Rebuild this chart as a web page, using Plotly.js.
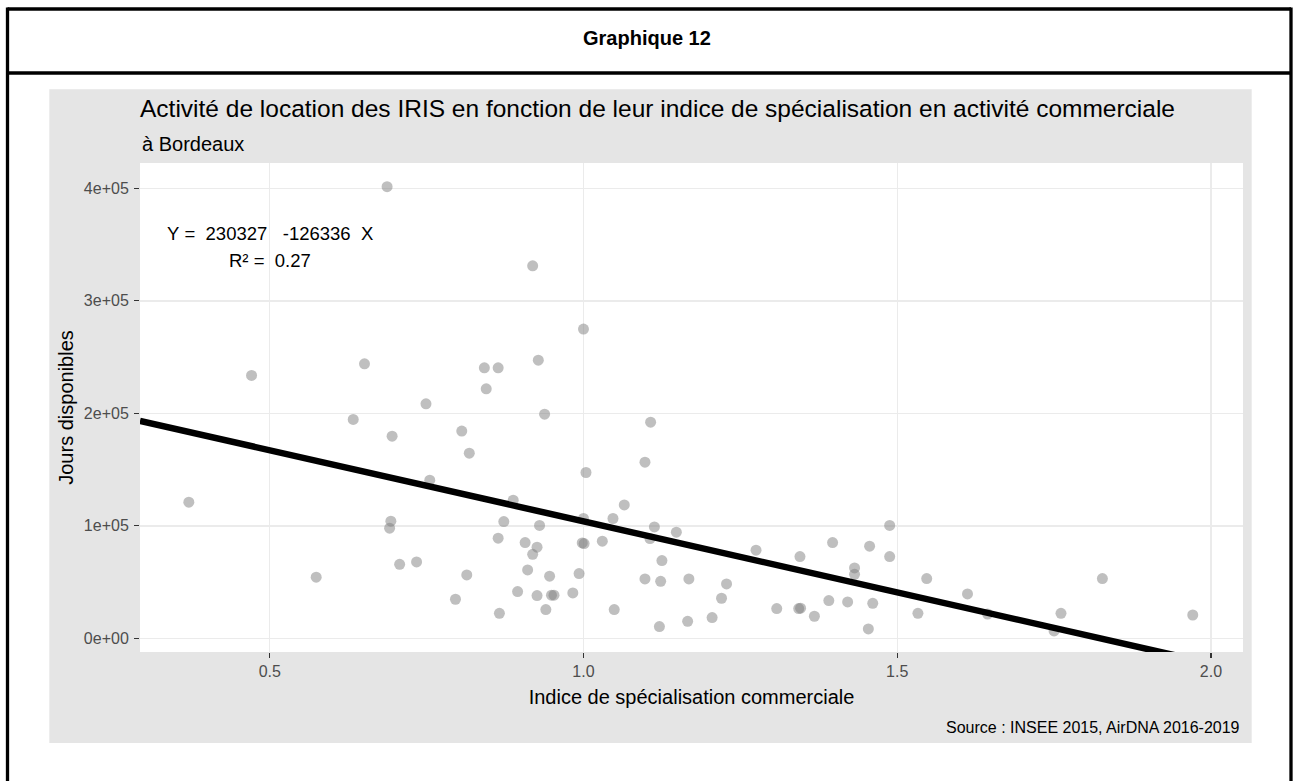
<!DOCTYPE html>
<html>
<head>
<meta charset="utf-8">
<script src="https://cdn.plot.ly/plotly-3.0.1.min.js"></script>
<style>
html,body{margin:0;padding:0;background:#fff;}
#chart{width:1293px;height:781px;}
</style>
</head>
<body>
<div id="chart"></div>
<script>
// ---- Data ----
const indiceSpecialisation = [
  0.687, 0.471, 0.651, 0.842, 0.864, 0.845, 0.749, 0.633, 0.695, 0.806,
  0.818, 0.755, 0.371, 0.693, 0.691, 0.873, 0.864, 0.707, 0.734, 0.574,
  0.814, 0.796, 0.866, 0.919, 1.000, 0.928, 0.938, 1.107, 1.098, 1.004,
  0.888, 1.065, 1.047, 1.000, 0.930, 1.113, 1.106, 1.148, 0.907, 0.926,
  0.919, 0.998, 1.001, 1.030, 1.125, 1.275, 1.345, 1.397, 1.456, 1.432,
  1.432, 0.911, 0.946, 0.993, 1.098, 1.123, 1.168, 1.228, 0.895, 0.926,
  0.949, 0.953, 0.983, 1.220, 0.940, 1.049, 1.121, 1.166, 1.205, 1.308,
  1.343, 1.346, 1.368, 1.391, 1.421, 1.461, 1.454, 1.488, 1.488, 1.547,
  1.612, 1.827, 1.533, 1.644, 1.761, 1.750, 1.971
];
const joursDisponibles = [
  401500, 233700, 244000, 240500, 240500, 221800, 208500, 194600, 179700, 184200,
  164600, 140600, 121000, 104100, 97900, 103800, 89000, 65800, 67900, 54300,
  56300, 34700, 22200, 331200, 274900, 247300, 199300, 192200, 156600, 147400,
  122800, 118600, 106500, 106500, 100300, 99000, 88700, 94300, 85100, 81000,
  74700, 84800, 84200, 86300, 69100, 78300, 72700, 85100, 81900, 62600,
  56900, 60800, 55200, 57500, 52800, 50700, 52800, 48300, 41500, 38000,
  38300, 38300, 40300, 35600, 25500, 25500, 10400, 15100, 18400, 26400,
  26400, 26800, 19600, 33500, 32300, 31100, 8300, 100300, 72700, 53100,
  39400, 53100, 22200, 21600, 22200, 6500, 20700
];
// regression: Y = intercept + slope * X
const regression = [230327, -126336];
const r2 = [0.27];
const xTickVals = [0.5, 1.0, 1.5, 2.0];
const xTickLabels = ["0.5", "1.0", "1.5", "2.0"];
const yTickVals = [0, 100000, 200000, 300000, 400000];
const yTickLabels = ["0e+00", "1e+05", "2e+05", "3e+05", "4e+05"];

// ---- Layout geometry (pixels) ----
const W = 1293, H = 781;
const PL = 140, PR = 1243, PT = 163, PB = 652;
const px = p => (p - PL) / (PR - PL);
const py = p => (PB - p) / (PB - PT);
const xRange = [0.2932, 2.0511];
const yRange = [-12190, 422600];
const FONT = "'Liberation Sans', Arial, sans-serif";
const nb = s => s.replace(/ /g, "\u00A0");

const lineX = xRange.slice();
const lineY = lineX.map(v => regression[0] + regression[1] * v);

const traces = [
  {
    type: "scatter", mode: "markers",
    x: indiceSpecialisation, y: joursDisponibles,
    marker: {size: 11, color: "rgba(127,127,127,0.5)", line: {width: 0}},
    hoverinfo: "x+y", showlegend: false
  },
  {
    type: "scatter", mode: "lines",
    x: lineX, y: lineY,
    line: {color: "#000000", width: 6.5},
    hoverinfo: "skip", showlegend: false
  }
];

const frameLine = {color: "#000000", width: 3.3};
const layout = {
  width: W, height: H,
  margin: {l: PL, r: W - PR, t: PT, b: H - PB, pad: 0},
  paper_bgcolor: "#ffffff",
  plot_bgcolor: "#ffffff",
  showlegend: false,
  font: {family: FONT, color: "#000000"},
  title: {
    text: "Activité de location des IRIS en fonction de leur indice de spécialisation en activité commerciale",
    font: {family: FONT, size: 24.5, color: "#000000"},
    xref: "paper", x: 0, xanchor: "left",
    yref: "container", y: 1 - 108 / H, yanchor: "middle"
  },
  xaxis: {
    range: xRange, tickmode: "array", tickvals: xTickVals, ticktext: xTickLabels,
    showgrid: true, gridcolor: "#EBEBEB", gridwidth: 1.4, zeroline: false, showline: false,
    ticks: "outside", ticklen: 5, tickwidth: 1.2, tickcolor: "#333333",
    tickfont: {family: FONT, size: 16, color: "#4D4D4D"},
    title: {text: "Indice de spécialisation commerciale", font: {family: FONT, size: 20, color: "#000000"}, standoff: 10}
  },
  yaxis: {
    range: yRange, tickmode: "array", tickvals: yTickVals, ticktext: yTickLabels,
    showgrid: true, gridcolor: "#EBEBEB", gridwidth: 1.4, zeroline: false, showline: false,
    ticks: "outside", ticklen: 5, tickwidth: 1.2, tickcolor: "#333333", ticklabelstandoff: 2,
    tickfont: {family: FONT, size: 16, color: "#4D4D4D"},
    title: {text: "Jours disponibles", font: {family: FONT, size: 20, color: "#000000"}, standoff: 4}
  },
  shapes: [
    // grey ggplot background
    {type: "rect", xref: "paper", yref: "paper", layer: "below",
     x0: px(49.3), x1: px(1251.7), y0: py(743), y1: py(89.3),
     fillcolor: "#E5E5E5", line: {width: 0}},
    // white panel
    {type: "rect", xref: "paper", yref: "paper", layer: "below",
     x0: 0, x1: 1, y0: 0, y1: 1, fillcolor: "#FFFFFF", line: {width: 0}},
    // outer frame
    {type: "line", xref: "paper", yref: "paper", x0: px(7.5), x1: px(1291), y0: py(9), y1: py(9), line: frameLine},
    {type: "line", xref: "paper", yref: "paper", x0: px(7.5), x1: px(1291), y0: py(73), y1: py(73), line: frameLine},
    {type: "line", xref: "paper", yref: "paper", x0: px(7.5), x1: px(7.5), y0: py(7.4), y1: py(790), line: frameLine},
    {type: "line", xref: "paper", yref: "paper", x0: px(1291), x1: px(1291), y0: py(7.4), y1: py(790), line: frameLine}
  ],
  annotations: [
    {text: "Graphique 12", xref: "paper", yref: "paper", x: px(646.5), y: py(38),
     xanchor: "center", yanchor: "middle", showarrow: false,
     font: {family: FONT, size: 20, color: "#000000", weight: "bold"}},
    {text: "à Bordeaux", xref: "paper", yref: "paper", x: 0, y: py(144),
     xanchor: "left", yanchor: "middle", showarrow: false,
     font: {family: FONT, size: 20, color: "#000000"}},
    {text: nb("Y =  " + regression[0] + "   " + regression[1] + "  X"), xref: "x", yref: "y",
     x: 0.5, y: 359500, xanchor: "center", yanchor: "middle", showarrow: false,
     font: {family: FONT, size: 18.5, color: "#000000"}},
    {text: nb("R² =  " + r2[0]), xref: "x", yref: "y",
     x: 0.5, y: 336000, xanchor: "center", yanchor: "middle", showarrow: false,
     font: {family: FONT, size: 18.5, color: "#000000"}},
    {text: "Source : INSEE 2015, AirDNA 2016-2019", xref: "paper", yref: "paper",
     x: px(1242.3), y: py(727), xanchor: "right", yanchor: "middle", showarrow: false,
     font: {family: FONT, size: 16, color: "#000000"}}
  ]
};

Plotly.newPlot("chart", traces, layout, {displayModeBar: false, staticPlot: true});
</script>
</body>
</html>
